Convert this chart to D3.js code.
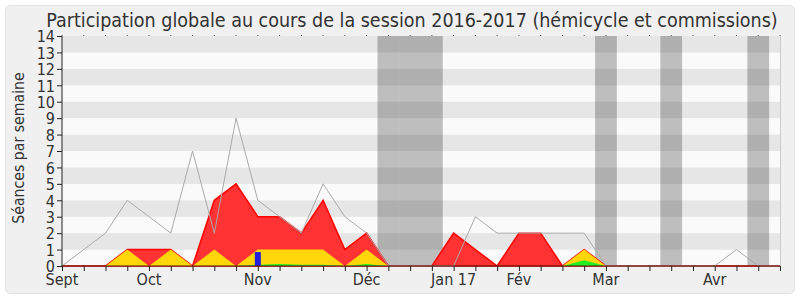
<!DOCTYPE html>
<html>
<head>
<meta charset="utf-8">
<script src="https://cdn.jsdelivr.net/npm/d3@7"></script>
<style>
body { margin: 0; background: #fff; }
svg text { font-family: "DejaVu Sans Condensed", "DejaVu Sans", sans-serif; fill: #333; }
</style>
</head>
<body>
<div id="chart"></div>
<script>
var width = 800, height = 300;

// une valeur par semaine (34 semaines)
var totalLine = [0,1,2,4,3,2,7,2,9,4,3,2,5,3,2,0,0,0,0,3,2,2,2,2,2,0,0,0,0,0,0,1,0,0];
var redValues = [0,0,0,1,1,1,0,4,5,3,3,2,4,1,2,0,0,0,2,1,0,2,2,0,1,0,0,0,0,0,0,0,0,0];
var yellowValues = [0,0,0,1,0,1,0,1,0,1,1,1,1,0,1,0,0,0,0,0,0,0,0,0,1,0,0,0,0,0,0,0,0,0];
var greenValues = [0,0,0,0,0,0,0,0,0,0.08,0.12,0.08,0.08,0,0.12,0,0,0,0,0,0,0,0,0,0.35,0,0,0,0,0,0,0,0,0];
var blueBars = [{week: 9, value: 0.85}];
var holidays = [15, 16, 17, 25, 28, 32];
var monthLabels = [
	{week: 0, label: "Sept"},
	{week: 4, label: "Oct"},
	{week: 9, label: "Nov"},
	{week: 14, label: "Déc"},
	{week: 18, label: "Jan 17"},
	{week: 21, label: "Fév"},
	{week: 25, label: "Mar"},
	{week: 30, label: "Avr"}
];
var yTicks = d3.range(0, 15);

var pLeft = 62, pRight = 780, pTop = 36, pBottom = 266;

var svg = d3.select("#chart").append("svg")
	.attr("width", width)
	.attr("height", height);

svg.append("rect")
	.attr("x", 5.5).attr("y", 5.5)
	.attr("width", 789).attr("height", 288)
	.attr("rx", 5)
	.style("fill", "#f0f0f0")
	.style("stroke", "#e2e2e2");

var x = d3.scaleLinear().domain([0, totalLine.length - 1]).range([pLeft, pRight]);
var y = d3.scaleLinear().domain([0, 14]).range([pBottom, pTop]);

// bandes horizontales
var g = svg.append("g");
g.selectAll(".band")
	.data(d3.range(0, 14))
	.enter().append("rect")
	.attr("x", pLeft)
	.attr("width", pRight - pLeft)
	.attr("y", function(d) { return y(d + 1); })
	.attr("height", function(d) { return y(d) - y(d + 1); })
	.style("fill", function(d) { return d % 2 ? "#e6e6e6" : "#fafafa"; });

// vacances
g.selectAll(".holiday")
	.data(holidays)
	.enter().append("rect")
	.attr("x", function(d) { return x(d - 0.5); })
	.attr("width", function(d) { return x(d + 0.5) - x(d - 0.5); })
	.attr("y", pTop)
	.attr("height", pBottom - pTop)
	.style("fill", "#000")
	.style("opacity", 0.24);

function area(values) {
	return d3.area()
		.x(function(d, i) { return x(i); })
		.y0(y(0))
		.y1(function(d) { return y(d); })(values);
}

g.append("path")
	.attr("d", area(redValues))
	.style("fill", "#ff3333")
	.style("stroke", "#ff0000")
	.style("stroke-width", 1.5);

g.append("path")
	.attr("d", area(yellowValues))
	.style("fill", "#ffd60a")
	.style("stroke", "none");

g.append("path")
	.attr("d", area(greenValues))
	.style("fill", "#22ee22")
	.style("stroke", "none");

g.selectAll(".blue")
	.data(blueBars)
	.enter().append("rect")
	.attr("x", function(d) { return x(d.week) - 3; })
	.attr("width", 6)
	.attr("y", function(d) { return y(d.value); })
	.attr("height", function(d) { return y(0) - y(d.value); })
	.style("fill", "#2222dd");

g.append("path")
	.attr("d", d3.line()
		.x(function(d, i) { return x(i); })
		.y(function(d) { return y(d); })(totalLine))
	.style("fill", "none")
	.style("stroke", "#aaaaaa")
	.style("stroke-width", 1);

// axes
var yAxis = svg.append("g")
	.attr("transform", "translate(" + pLeft + ",0)")
	.call(d3.axisLeft(y).tickValues(yTicks).tickSize(5).tickPadding(2));
yAxis.select(".domain").attr("d", "M0," + pTop + "V" + pBottom);

var xAxis = svg.append("g")
	.attr("transform", "translate(0," + pBottom + ")")
	.call(d3.axisBottom(x).tickValues(d3.range(0, totalLine.length)).tickSize(5).tickFormat(""));
xAxis.select(".domain").attr("d", "M" + pLeft + ",0H" + pRight).style("stroke", "#4a1a10");

yAxis.selectAll(".domain, .tick line").style("stroke", "#222");
xAxis.selectAll(".tick line").style("stroke", "#222");
yAxis.selectAll("text").style("font-size", "16px").attr("dy", "0.36em")
	.style("font-family", "'DejaVu Sans Condensed', 'DejaVu Sans', sans-serif").style("fill", "#333");

svg.selectAll(".month")
	.data(monthLabels)
	.enter().append("text")
	.attr("x", function(d) { return x(d.week); })
	.attr("y", 285)
	.attr("text-anchor", "middle")
	.style("font-size", "16px")
	.text(function(d) { return d.label; });

// petits points en haut
svg.selectAll(".topdot")
	.data(d3.range(0, totalLine.length))
	.enter().append("rect")
	.attr("x", function(d) { return x(d) - 0.5; })
	.attr("y", pTop - 1)
	.attr("width", 1).attr("height", 1)
	.style("fill", "#555");

svg.append("line")
	.attr("x1", pRight + 0.5).attr("x2", pRight + 0.5)
	.attr("y1", pTop).attr("y2", pBottom)
	.style("stroke", "#cccccc");

svg.append("text")
	.attr("x", 412)
	.attr("y", 27)
	.attr("text-anchor", "middle")
	.style("font-size", "19.5px")
	.text("Participation globale au cours de la session 2016-2017 (hémicycle et commissions)");

svg.append("text")
	.attr("transform", "translate(24,148)rotate(-90)")
	.attr("text-anchor", "middle")
	.style("font-size", "15.7px")
	.text("Séances par semaine");
</script>
</body>
</html>
